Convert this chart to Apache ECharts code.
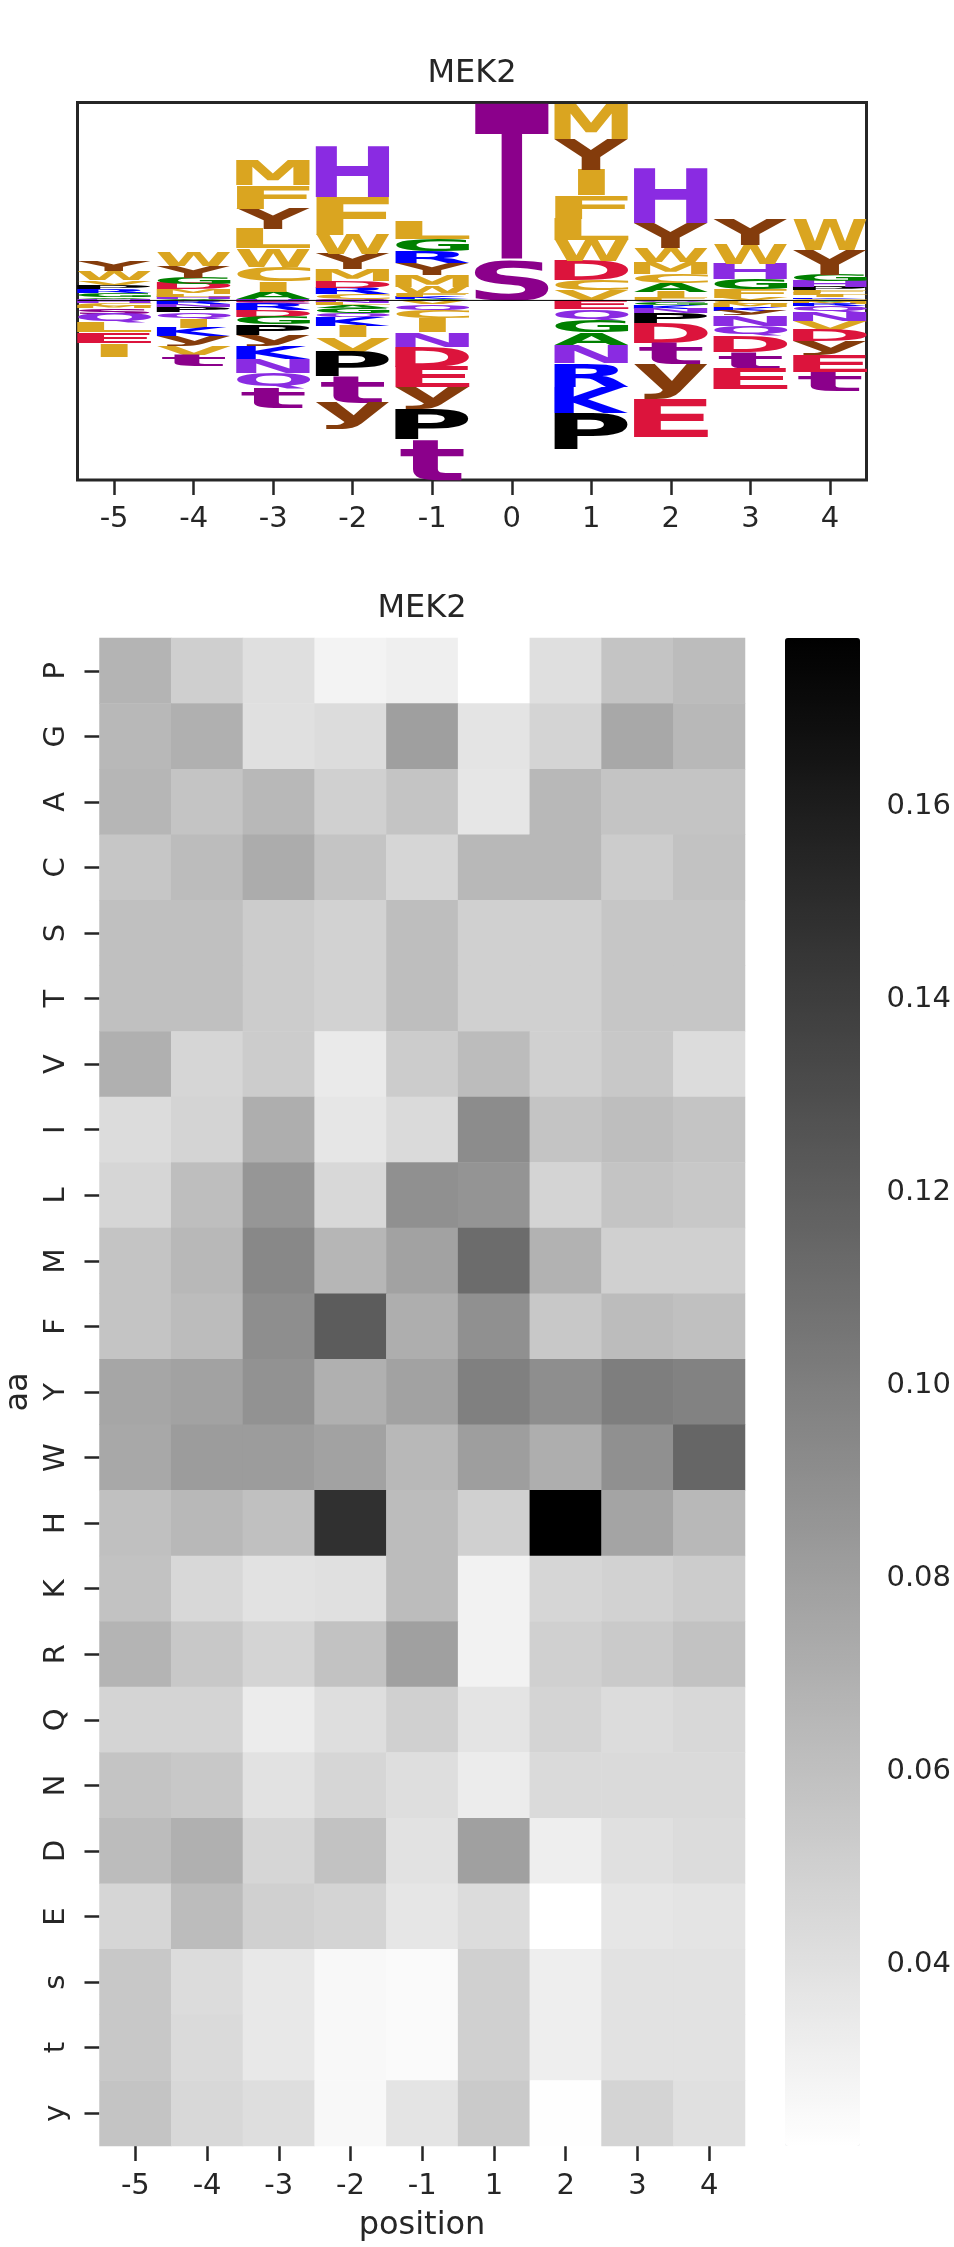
<!DOCTYPE html>
<html><head><meta charset="utf-8">
<script src="https://cdn.jsdelivr.net/npm/echarts@6/dist/echarts.min.js"></script>
<style>html,body{margin:0;padding:0;background:#fff}#c{width:954px;height:2247px}</style>
</head><body><div id="c"></div>
<script>
// ================= DATA =================
// --- sequence logo: letter heights per position (positive = above baseline, negative = below) ---
const logoPositions = [-5, -4, -3, -2, -1, 0, 1, 2, 3, 4];
const logoM5 = [['N',0.004],['A',0.005],['G',0.012],['R',0.013],['P',0.013],['V',0.013],['W',0.028],['Y',0.030],
  ['H',-0.008],['C',-0.008],['M',-0.008],['s',-0.016],['Q',-0.026],['L',-0.030],['E',-0.032],['I',-0.040]];
const logoM4 = [['A',0.004],['H',0.006],['L',0.008],['M',0.015],['D',0.017],['G',0.018],['Y',0.035],['W',0.044],
  ['F',-0.004],['R',-0.008],['N',-0.008],['P',-0.016],['Q',-0.020],['I',-0.026],['K',-0.026],['y',-0.027],['V',-0.028],['t',-0.034]];
const logoM3 = [['H',0.004],['A',0.022],['I',0.032],['C',0.043],['W',0.055],['L',0.057],['Y',0.062],['F',0.070],['M',0.075],
  ['E',-0.004],['S',-0.008],['R',-0.018],['D',-0.020],['G',-0.022],['P',-0.032],['y',-0.032],['K',-0.040],['N',-0.041],['Q',-0.048],['t',-0.058]];
const logoM2 = [['S',0.003],['C',0.016],['R',0.019],['D',0.020],['M',0.036],['Y',0.045],['W',0.058],['F',0.114],['H',0.150],
  ['N',-0.007],['L',-0.008],['A',-0.008],['G',-0.014],['Q',-0.015],['K',-0.025],['I',-0.033],['V',-0.044],['P',-0.074],['t',-0.079],['y',-0.082]];
const logoM1 = [['A',0.005],['K',0.006],['F',0.010],['W',0.018],['M',0.036],['Y',0.036],['R',0.036],['G',0.037],['L',0.055],
  ['V',-0.012],['Q',-0.020],['C',-0.022],['I',-0.042],['N',-0.044],['D',-0.058],['E',-0.062],['y',-0.065],['P',-0.092],['t',-0.121]];
const logo0 = [['S',0.123],['T',0.470]];
const logoP1 = [['V',0.030],['C',0.030],['D',0.057],['W',0.063],['L',0.065],['F',0.070],['I',0.077],['Y',0.093],['M',0.105],
  ['E',-0.026],['Q',-0.034],['G',-0.036],['A',-0.037],['N',-0.055],['R',-0.070],['K',-0.078],['P',-0.110]];
const logoP2 = [['F',0.006],['I',0.018],['A',0.028],['C',0.028],['M',0.035],['W',0.043],['Y',0.075],['H',0.162],
  ['Q',-0.005],['G',-0.008],['K',-0.012],['N',-0.014],['P',-0.030],['D',-0.058],['t',-0.064],['y',-0.105],['E',-0.112]];
const logoP3 = [['V',0.008],['F',0.025],['G',0.030],['H',0.045],['W',0.058],['Y',0.077],
  ['C',-0.010],['M',-0.011],['K',-0.011],['y',-0.014],['N',-0.030],['Q',-0.030],['D',-0.048],['t',-0.050],['E',-0.062]];
const logoP4 = [['C',0.005],['K',0.005],['I',0.006],['L',0.007],['F',0.008],['P',0.010],['H',0.017],['G',0.018],['Y',0.075],['W',0.093],
  ['A',-0.005],['M',-0.006],['R',-0.006],['Q',-0.017],['N',-0.027],['V',-0.028],['D',-0.033],['y',-0.040],['E',-0.052],['t',-0.056]];
const logoColumns = [logoM5, logoM4, logoM3, logoM2, logoM1, logo0, logoP1, logoP2, logoP3, logoP4];
const logoXLim = [-5.46, 4.46];

// --- heatmap ---
const heatPositions = ['-5','-4','-3','-2','-1','1','2','3','4'];
const aminoAcids = ['P','G','A','C','S','T','V','I','L','M','F','Y','W','H','K','R','Q','N','D','E','s','t','y'];
const heatP = [0.0672,0.0506,0.0408,0.0286,0.0310,0.0212,0.0408,0.0574,0.0623];
const heatG = [0.0647,0.0696,0.0402,0.0427,0.0800,0.0378,0.0475,0.0745,0.0647];
const heatA = [0.0659,0.0574,0.0647,0.0500,0.0574,0.0365,0.0647,0.0574,0.0574];
const heatC = [0.0561,0.0623,0.0721,0.0574,0.0463,0.0647,0.0647,0.0525,0.0586];
const heatS = [0.0598,0.0598,0.0525,0.0488,0.0610,0.0500,0.0500,0.0561,0.0561];
const heatT = [0.0596,0.0600,0.0522,0.0490,0.0612,0.0502,0.0498,0.0563,0.0560];
const heatV = [0.0696,0.0463,0.0525,0.0341,0.0525,0.0623,0.0500,0.0549,0.0427];
const heatI = [0.0427,0.0475,0.0708,0.0365,0.0439,0.0917,0.0574,0.0610,0.0574];
const heatL = [0.0463,0.0610,0.0855,0.0451,0.0892,0.0868,0.0475,0.0574,0.0549];
const heatM = [0.0574,0.0647,0.0941,0.0659,0.0782,0.1113,0.0684,0.0500,0.0500];
const heatF = [0.0574,0.0623,0.0904,0.1211,0.0708,0.0892,0.0549,0.0623,0.0598];
const heatY = [0.0757,0.0782,0.0880,0.0696,0.0782,0.0990,0.0904,0.1002,0.0978];
const heatW = [0.0745,0.0819,0.0819,0.0782,0.0647,0.0806,0.0708,0.0892,0.1149];
const heatH = [0.0598,0.0647,0.0598,0.1480,0.0623,0.0500,0.1774,0.0770,0.0647];
const heatK = [0.0586,0.0451,0.0390,0.0402,0.0623,0.0292,0.0463,0.0488,0.0525];
const heatR = [0.0672,0.0549,0.0475,0.0586,0.0794,0.0292,0.0500,0.0537,0.0586];
const heatQ = [0.0475,0.0475,0.0329,0.0414,0.0500,0.0378,0.0475,0.0427,0.0451];
const heatN = [0.0574,0.0549,0.0390,0.0463,0.0414,0.0329,0.0439,0.0439,0.0439];
const heatD = [0.0623,0.0696,0.0463,0.0586,0.0390,0.0794,0.0316,0.0402,0.0427];
const heatE = [0.0463,0.0623,0.0500,0.0475,0.0365,0.0427,0.0212,0.0365,0.0378];
const heat_s = [0.0549,0.0427,0.0353,0.0255,0.0243,0.0500,0.0316,0.0390,0.0390];
const heat_t = [0.0549,0.0439,0.0353,0.0255,0.0243,0.0500,0.0316,0.0390,0.0390];
const heat_y = [0.0574,0.0451,0.0414,0.0255,0.0378,0.0537,0.0218,0.0475,0.0402];
const heatRows = [heatP,heatG,heatA,heatC,heatS,heatT,heatV,heatI,heatL,heatM,heatF,heatY,heatW,heatH,heatK,heatR,heatQ,heatN,heatD,heatE,heat_s,heat_t,heat_y];
const colorMin = 0.0212, colorMax = 0.1774;
const colorbarTicks = [0.04, 0.06, 0.08, 0.10, 0.12, 0.14, 0.16];

// ================= BUILD =================
const FONT_FAMILY = 'DejaVu Sans';
const TXT = '#262626';
const letterColor = (ch) => {
  if ('WMFLIVC'.includes(ch)) return '#DAA520';
  if ('GA'.includes(ch)) return '#008000';
  if ('STst'.includes(ch)) return '#8B008B';
  if ('DE'.includes(ch)) return '#DC143C';
  if ('KR'.includes(ch)) return '#0000FF';
  if ('HNQ'.includes(ch)) return '#8A2BE2';
  if (ch === 'P') return '#000000';
  if ('Yy'.includes(ch)) return '#843c0c';
  return '#888';
};

const letterItems = [], letterChars = [];
let stackMax = 0, stackMin = 0;
logoColumns.forEach((col, i) => {
  const x = logoPositions[i];
  const pos = col.filter(d => d[1] > 0).sort((a, b) => a[1] - b[1]);
  const neg = col.filter(d => d[1] < 0).sort((a, b) => b[1] - a[1]);
  let y = 0;
  pos.forEach(d => { letterItems.push([x, y, y + d[1]]); letterChars.push(d[0]); y += d[1]; });
  stackMax = Math.max(stackMax, y);
  y = 0;
  neg.forEach(d => { letterItems.push([x, y + d[1], y]); letterChars.push(d[0]); y += d[1]; });
  stackMin = Math.min(stackMin, y);
});

const mctx = document.createElement('canvas').getContext('2d');
const GF = 100;
mctx.font = 'bold ' + GF + 'px ' + FONT_FAMILY;
mctx.textBaseline = 'middle';
mctx.textAlign = 'left';
const mcache = {};
function metrics(ch) {
  if (!mcache[ch]) {
    const m = mctx.measureText(ch);
    mcache[ch] = { L: m.actualBoundingBoxLeft, R: m.actualBoundingBoxRight, A: m.actualBoundingBoxAscent, D: m.actualBoundingBoxDescent };
    mcache[ch].w = mcache[ch].L + mcache[ch].R;
    mcache[ch].h = mcache[ch].A + mcache[ch].D;
  }
  return mcache[ch];
}
const LETTER_W = 0.93;

const heatData = [];
heatRows.forEach((row, r) => row.forEach((v, c) => heatData.push([c, r, v])));

const chart = echarts.init(document.getElementById('c'), null, { renderer: 'canvas' });
chart.setOption({
  animation: false,
  textStyle: { fontFamily: FONT_FAMILY, color: TXT },
  graphic: [
    { type: 'text', x: 472, y: 74, style: { text: 'MEK2', fontSize: 32, fontFamily: FONT_FAMILY, fill: TXT, align: 'center', verticalAlign: 'middle' } },
    { type: 'text', x: 422, y: 609, style: { text: 'MEK2', fontSize: 32, fontFamily: FONT_FAMILY, fill: TXT, align: 'center', verticalAlign: 'middle' } },
    { type: 'text', x: 422, y: 2226, style: { text: 'position', fontSize: 32, fontFamily: FONT_FAMILY, fill: TXT, align: 'center', verticalAlign: 'middle' } },
    { type: 'text', x: 19, y: 1392, rotation: Math.PI / 2, style: { text: 'aa', fontSize: 32, fontFamily: FONT_FAMILY, fill: TXT, align: 'center', verticalAlign: 'middle' } }
  ],
  grid: [
    { left: 77.5, top: 102.5, width: 789, height: 377.5, show: true, borderColor: TXT, borderWidth: 3, backgroundColor: 'transparent' },
    { left: 99.5, top: 638, width: 645.5, height: 1508 },
    { left: 785, top: 638, width: 75, height: 1508 }
  ],
  xAxis: [
    { gridIndex: 0, type: 'value', min: logoXLim[0], max: logoXLim[1], position: 'bottom',
      axisLine: { show: false, onZero: false }, splitLine: { show: false },
      axisTick: { show: true, length: 15, lineStyle: { color: TXT, width: 2.5 }, customValues: logoPositions },
      axisLabel: { fontSize: 29, color: TXT, margin: 25, fontFamily: FONT_FAMILY, customValues: logoPositions, formatter: v => String(v) } },
    { gridIndex: 1, type: 'category', data: heatPositions, position: 'bottom',
      axisLine: { show: false }, splitLine: { show: false },
      axisTick: { show: true, alignWithLabel: true, length: 15, lineStyle: { color: TXT, width: 2.5 } },
      axisLabel: { fontSize: 29, color: TXT, margin: 26, fontFamily: FONT_FAMILY } },
    { gridIndex: 2, type: 'value', show: false, min: 0, max: 1 }
  ],
  yAxis: [
    { gridIndex: 0, type: 'value', min: stackMin, max: stackMax, show: false },
    { gridIndex: 1, type: 'category', data: aminoAcids, inverse: true,
      axisLine: { show: false }, splitLine: { show: false },
      axisTick: { show: true, alignWithLabel: true, length: 15, lineStyle: { color: TXT, width: 2.5 } },
      axisLabel: { fontSize: 29, color: TXT, margin: 29, rotate: 90, fontFamily: FONT_FAMILY } },
    { gridIndex: 2, type: 'value', position: 'right', min: colorMin, max: colorMax,
      axisLine: { show: false }, splitLine: { show: false },
      axisTick: { show: true, length: 16, lineStyle: { color: TXT, width: 2.5 }, customValues: colorbarTicks },
      axisLabel: { fontSize: 29, color: TXT, margin: 29, fontFamily: FONT_FAMILY, customValues: colorbarTicks, formatter: v => v.toFixed(2) } }
  ],
  visualMap: {
    type: 'continuous', seriesIndex: 2, min: colorMin, max: colorMax,
    inRange: { color: ['#ffffff', '#000000'] },
    orient: 'vertical', left: 785, top: 638, itemWidth: 75, itemHeight: 1508,
    padding: 0, calculable: false, realtime: false, hoverLink: false, text: null,
    show: true
  },
  series: [
    {
      type: 'custom', xAxisIndex: 0, yAxisIndex: 0, silent: true, z: 3,
      data: letterItems,
      renderItem: function (params, api) {
        const x = api.value(0), lo = api.value(1), hi = api.value(2);
        const ch = letterChars[params.dataIndex];
        const p0 = api.coord([x - LETTER_W / 2, hi]);
        const p1 = api.coord([x + LETTER_W / 2, lo]);
        const boxW = p1[0] - p0[0], boxH = p1[1] - p0[1];
        if (boxH <= 0.05) return null;
        const m = metrics(ch);
        const mE = metrics('E');
        let sx = boxW / m.w;
        const sxMax = boxW / mE.w;
        if (sx > sxMax) sx = sxMax;
        const sy = boxH / m.h;
        const left = p0[0] + (boxW - m.w * sx) / 2;
        return {
          type: 'text', x: left + sx * m.L, y: p0[1] + sy * m.A, scaleX: sx, scaleY: sy, silent: true,
          style: { text: ch, fontSize: GF, fontWeight: 'bold', fontFamily: FONT_FAMILY, fill: letterColor(ch), align: 'left', verticalAlign: 'middle' }
        };
      }
    },
    {
      type: 'line', xAxisIndex: 0, yAxisIndex: 0, silent: true, z: 5, symbol: 'none',
      data: [[logoXLim[0], 0], [logoXLim[1], 0]],
      lineStyle: { color: '#000000', width: 1 }
    },
    {
      type: 'heatmap', xAxisIndex: 1, yAxisIndex: 1, data: heatData, silent: true,
      itemStyle: { borderWidth: 0 }, emphasis: { disabled: true }
    }
  ]
});
</script>
</body></html>
